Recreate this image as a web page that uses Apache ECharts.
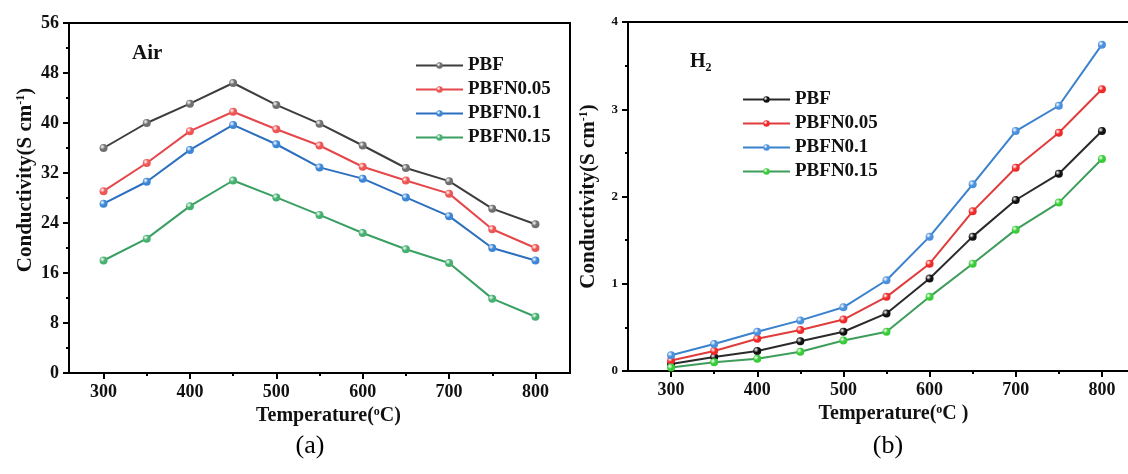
<!DOCTYPE html>
<html>
<head>
<meta charset="utf-8">
<script src="https://cdn.jsdelivr.net/npm/echarts@6/dist/echarts.min.js"></script>
<style>
html,body{margin:0;padding:0;background:#fff;}
#chart{width:1128px;height:474px;}
</style>
</head>
<body>
<div id="chart"></div>
<script>
// ---- data ----
const temperatures = [300, 350, 400, 450, 500, 550, 600, 650, 700, 750, 800];
const seriesNames = ['PBF', 'PBFN0.05', 'PBFN0.1', 'PBFN0.15'];

// (a) Air
const airPBF    = [36.0, 40.0, 43.1, 46.4, 42.9, 39.9, 36.4, 32.8, 30.7, 26.3, 23.8];
const airPBFN005 = [29.1, 33.6, 38.7, 41.8, 39.0, 36.4, 33.0, 30.8, 28.7, 23.0, 20.0];
const airPBFN01 = [27.1, 30.6, 35.7, 39.7, 36.6, 32.9, 31.1, 28.1, 25.1, 20.0, 18.0];
const airPBFN015 = [18.0, 21.5, 26.7, 30.8, 28.1, 25.3, 22.4, 19.8, 17.6, 11.9, 9.0];

// (b) H2
const h2PBF    = [0.08, 0.16, 0.23, 0.34, 0.45, 0.66, 1.06, 1.54, 1.96, 2.26, 2.75];
const h2PBFN005 = [0.12, 0.23, 0.37, 0.47, 0.59, 0.85, 1.23, 1.83, 2.33, 2.73, 3.23];
const h2PBFN01 = [0.18, 0.31, 0.45, 0.58, 0.73, 1.04, 1.54, 2.14, 2.75, 3.04, 3.74];
const h2PBFN015 = [0.04, 0.10, 0.14, 0.22, 0.35, 0.45, 0.85, 1.23, 1.62, 1.93, 2.43];

const xMajorTicks = [300, 400, 500, 600, 700, 800];
const xMinorTicks = [350, 450, 550, 650, 750];

// ---- styling ----
const FONT = '"Liberation Serif", "Times New Roman", serif';
const colorsA = {line: ['#3d3d3d', '#e5474b', '#2c6fbf', '#3a9f62'], dot: ['#707070', '#ee5555', '#3c86d6', '#45b070']};
const colorsB = {line: ['#2a2a2a', '#e03c3c', '#3b82cc', '#3f9d5b'], dot: ['#111111', '#ee2a2a', '#4a90dd', '#38cc38']};

function ball(c) {
  return {type: 'radial', x: 0.35, y: 0.35, r: 0.75,
    colorStops: [{offset: 0, color: '#ffffff'}, {offset: 0.45, color: c}, {offset: 1, color: c}]};
}

function pairs(vals) { return temperatures.map((t, i) => [t, vals[i]]); }

function makeSeries(vals, idx, pal, gi) {
  return {
    name: seriesNames[idx], type: 'line', xAxisIndex: gi * 2, yAxisIndex: gi,
    data: pairs(vals), symbol: 'circle', symbolSize: 8, showSymbol: true,
    lineStyle: {color: pal.line[idx], width: 2},
    itemStyle: {color: ball(pal.dot[idx]), borderWidth: 0},
    z: 3
  };
}

const axisLineStyle = {show: true, lineStyle: {color: '#000', width: 2}};
const tickLabel = {fontFamily: FONT, fontWeight: 'bold', fontSize: 18, color: '#111'};
const supRich = {
  sup: {fontFamily: FONT, fontWeight: 'bold', fontSize: 12, color: '#111', verticalAlign: 'top', lineHeight: 10, padding: [0, 0, 9, 0]},
  sub: {fontFamily: FONT, fontWeight: 'bold', fontSize: 12, color: '#111', padding: [10, 0, 0, 0]}
};

function xAxes(gi, min, max) {
  return [
    {gridIndex: gi, type: 'value', min: min, max: max, position: 'bottom',
     axisLine: axisLineStyle,
     axisTick: {show: true, inside: false, length: 6, lineStyle: {width: 2, color: '#000'}, customValues: xMajorTicks},
     axisLabel: {show: true, margin: 10, customValues: xMajorTicks, ...tickLabel},
     splitLine: {show: false},
     name: gi === 0 ? 'Temperature({sup|o}C)' : 'Temperature({sup|o}C )',
     nameLocation: 'middle', nameGap: 29,
     nameTextStyle: {fontFamily: FONT, fontWeight: 'bold', fontSize: 20, color: '#111', padding: [0, 0, 0, gi === 0 ? 18 : 14], rich: supRich}
    },
    {gridIndex: gi, type: 'value', min: min, max: max, position: 'bottom',
     axisLine: {show: false},
     axisTick: {show: true, inside: false, length: 3, lineStyle: {width: 2, color: '#000'}, customValues: xMinorTicks},
     axisLabel: {show: false}, splitLine: {show: false}
    }
  ];
}

function yAxis(gi, max, interval, gap, pad) {
  return {gridIndex: gi, type: 'value', min: 0, max: max, interval: interval,
    axisLine: axisLineStyle,
    axisTick: {show: true, inside: false, length: 6, lineStyle: {width: 2, color: '#000'}},
    minorTick: {show: true, splitNumber: 2, length: 3, lineStyle: {width: 2, color: '#000'}},
    axisLabel: {margin: 10, ...tickLabel, fontSize: gi === 0 ? 18 : 13},
    splitLine: {show: false}, minorSplitLine: {show: false},
    name: 'Conductivity(S cm{sup|-1})', nameLocation: 'middle', nameGap: gap, nameRotate: 90,
    nameTextStyle: {fontFamily: FONT, fontWeight: 'bold', fontSize: 21, color: '#111', padding: [0, 0, 0, pad], rich: supRich}
  };
}

function legendData(pal) {
  return seriesNames.map((n, i) => ({
    name: n,
    itemStyle: {color: ball(pal.dot[i]), borderWidth: 0},
    lineStyle: {color: pal.line[i], width: 2}
  }));
}

const option = {
  animation: false,
  backgroundColor: '#fff',
  grid: [
    {left: 69, top: 23, width: 501, height: 350, show: true, borderColor: '#000', borderWidth: 2, outerBoundsMode: 'none'},
    {left: 628, top: 22, width: 517, height: 349, show: true, borderColor: '#000', borderWidth: 2, outerBoundsMode: 'none'}
  ],
  xAxis: [...xAxes(0, 260, 840), ...xAxes(1, 250, 850)],
  yAxis: [yAxis(0, 56, 8, 33, 36), yAxis(1, 4, 1, 29, 0)],
  legend: [
    {left: 410, top: 51, orient: 'vertical', itemWidth: 47, itemHeight: 8, itemGap: 5,
     textStyle: {fontFamily: FONT, fontWeight: 'bold', fontSize: 19, color: '#111'},
     data: legendData(colorsA), selectedMode: false},
    {left: 737, top: 85, orient: 'vertical', itemWidth: 47, itemHeight: 8, itemGap: 5,
     textStyle: {fontFamily: FONT, fontWeight: 'bold', fontSize: 19, color: '#111'},
     data: legendData(colorsB), selectedMode: false}
  ],
  title: [
    {text: '(a)', left: 305, top: 428, textAlign: 'center',
     textStyle: {fontFamily: FONT, fontWeight: 'normal', fontSize: 26, color: '#000'}},
    {text: '(b)', left: 883, top: 428, textAlign: 'center',
     textStyle: {fontFamily: FONT, fontWeight: 'normal', fontSize: 26, color: '#000'}}
  ],
  graphic: [
    {type: 'text', left: 132, top: 43, style: {text: 'Air', font: 'bold 21px ' + FONT, fill: '#111'}},
    {type: 'text', left: 690, top: 52, style: {
      text: 'H{sub|2}', font: 'bold 20px ' + FONT, fill: '#111',
      rich: {sub: {font: 'bold 12px ' + FONT, fill: '#111', padding: [11, 0, 0, 0]}}}}
  ],
  series: [
    makeSeries(airPBF, 0, colorsA, 0),
    makeSeries(airPBFN005, 1, colorsA, 0),
    makeSeries(airPBFN01, 2, colorsA, 0),
    makeSeries(airPBFN015, 3, colorsA, 0),
    makeSeries(h2PBF, 0, colorsB, 1),
    makeSeries(h2PBFN005, 1, colorsB, 1),
    makeSeries(h2PBFN01, 2, colorsB, 1),
    makeSeries(h2PBFN015, 3, colorsB, 1)
  ]
};

const chart = echarts.init(document.getElementById('chart'), null, {renderer: 'canvas'});
chart.setOption(option);
</script>
</body>
</html>
